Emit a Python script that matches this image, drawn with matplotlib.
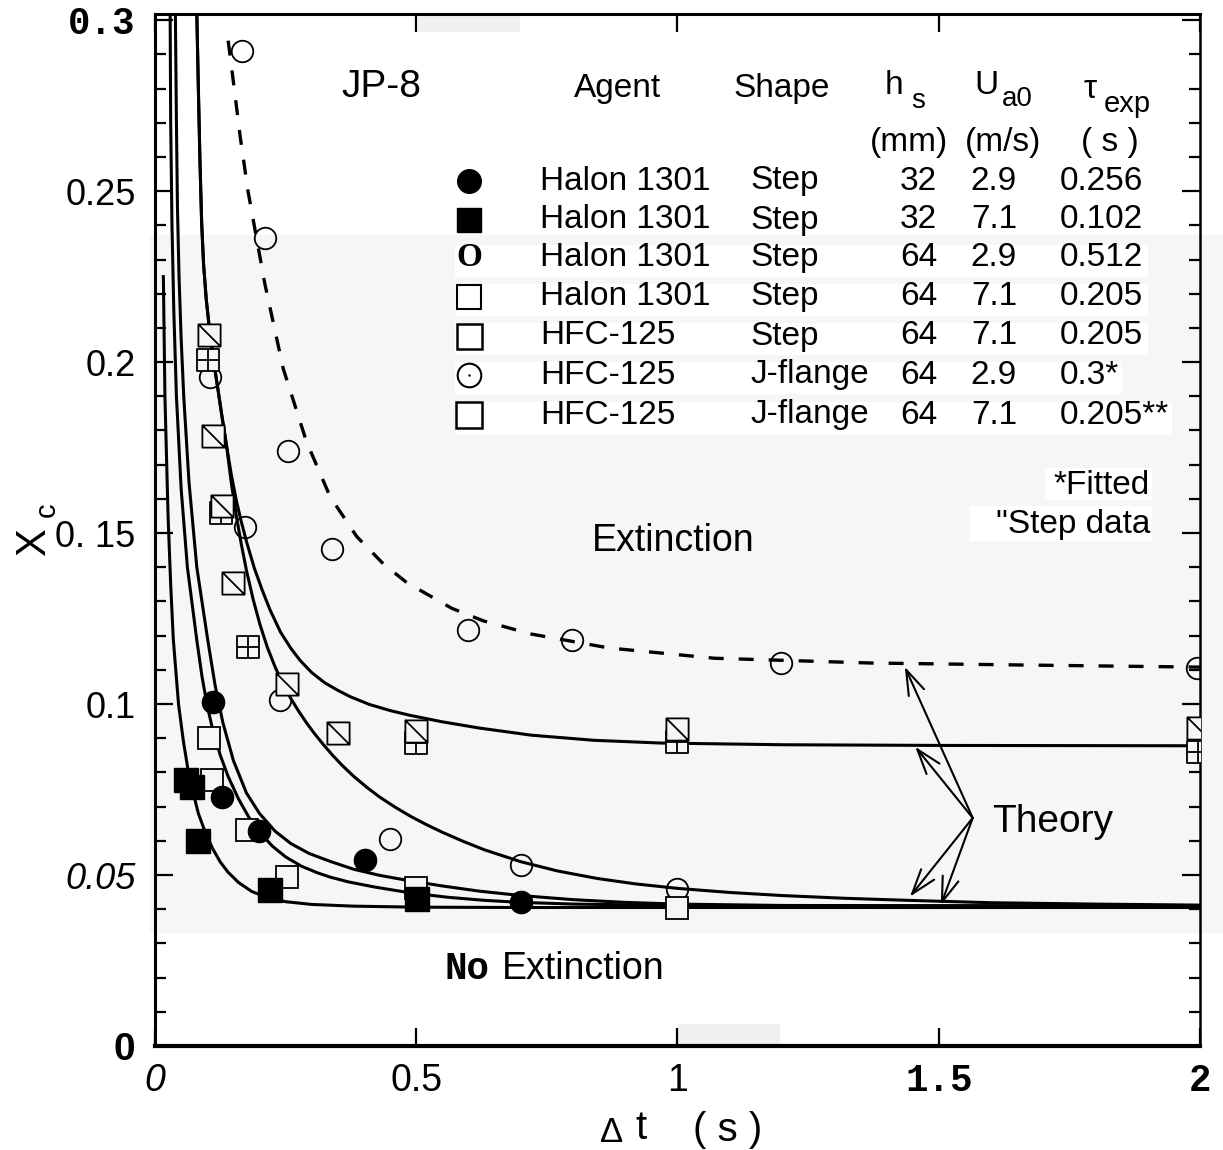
import matplotlib.pyplot as plt
from matplotlib.path import Path
from matplotlib.patches import Rectangle
from matplotlib.ticker import MultipleLocator

plt.rcParams['font.family'] = ['Liberation Sans', 'DejaVu Sans']

# ---- theory curves (dt in s, Xc) ----
a_dt = [0.016, 0.019, 0.025, 0.030, 0.035, 0.045, 0.054, 0.065, 0.083, 0.095, 0.11, 0.125,
        0.14, 0.16, 0.185, 0.215, 0.25, 0.30, 0.38, 0.5, 0.7, 1.0, 1.5, 2.0]
a_xc = [0.225, 0.19, 0.155, 0.135, 0.119, 0.100, 0.0895, 0.079, 0.068, 0.063, 0.0578, 0.0538,
        0.0508, 0.0478, 0.0452, 0.0434, 0.0422, 0.0414, 0.0409, 0.0406, 0.0405, 0.0405, 0.0405,
        0.0405]

e_dt = [0.029, 0.030, 0.0325, 0.036, 0.041, 0.050, 0.062, 0.080, 0.09, 0.10, 0.11, 0.125,
        0.14, 0.16, 0.18, 0.20, 0.225, 0.25, 0.28, 0.31, 0.335, 0.37, 0.42, 0.488, 0.56, 0.63,
        0.70, 0.8, 1.0, 1.5, 2.0]
e_xc = [0.302, 0.27, 0.24, 0.215, 0.19, 0.163, 0.140, 0.1187, 0.108, 0.0995, 0.0928, 0.085,
        0.0788, 0.0722, 0.0668, 0.0625, 0.0584, 0.0553, 0.0526, 0.0507, 0.0494, 0.048, 0.0465,
        0.0448, 0.0435, 0.0426, 0.042, 0.0415, 0.0411, 0.041, 0.041]

b_dt = [0.039, 0.041, 0.043, 0.046, 0.050, 0.055, 0.065, 0.080, 0.101, 0.115, 0.13, 0.15,
        0.175, 0.20, 0.23, 0.26, 0.295, 0.335, 0.38, 0.43, 0.488, 0.55, 0.62, 0.70, 0.80, 0.9,
        1.0, 1.2, 1.5, 2.0]
b_xc = [0.302, 0.27, 0.245, 0.225, 0.207, 0.19, 0.165, 0.140, 0.1187, 0.1055, 0.0945, 0.0835,
        0.074, 0.068, 0.0628, 0.0592, 0.0563, 0.054, 0.0517, 0.0499, 0.0483, 0.0468, 0.0453,
        0.044, 0.0428, 0.042, 0.0415, 0.0411, 0.041, 0.041]

c_dt = [0.080, 0.083, 0.086, 0.0893, 0.093, 0.098, 0.105, 0.113, 0.12, 0.1276, 0.137, 0.146,
        0.156, 0.165, 0.175, 0.188, 0.201, 0.215, 0.23, 0.245, 0.26, 0.275, 0.29, 0.305, 0.322,
        0.34, 0.36, 0.38, 0.405, 0.43, 0.46, 0.49, 0.52, 0.55, 0.589, 0.63, 0.70, 0.77, 0.846,
        0.92, 1.0, 1.1, 1.2, 1.32, 1.44, 1.6, 1.8, 2.0]
c_xc = [0.302, 0.28, 0.259, 0.2407, 0.2285, 0.2185, 0.2085, 0.1995, 0.1925, 0.1847, 0.1755,
        0.1647, 0.1547, 0.1469, 0.1391, 0.1305, 0.1232, 0.1166, 0.1108, 0.1058, 0.1016, 0.0979,
        0.0945, 0.0914, 0.0882, 0.085, 0.0818, 0.0789, 0.0757, 0.0728, 0.0698, 0.0671, 0.0647,
        0.0625, 0.0599, 0.0574, 0.0539, 0.0512, 0.049, 0.0474, 0.0461, 0.0449, 0.044, 0.0432,
        0.0426, 0.0419, 0.0415, 0.0412]

d_dt = [0.080, 0.083, 0.086, 0.0893, 0.093, 0.098, 0.105, 0.113, 0.12, 0.1276, 0.137, 0.146,
        0.156, 0.1655, 0.1755, 0.19, 0.205, 0.22, 0.24, 0.26, 0.2775, 0.30, 0.325, 0.35, 0.373,
        0.41, 0.45, 0.488, 0.55, 0.62, 0.72, 0.84, 0.968, 1.2, 1.5, 2.0]
d_xc = [0.302, 0.28, 0.259, 0.2407, 0.2285, 0.2185, 0.2085, 0.1995, 0.1925, 0.1847, 0.1755,
        0.1671, 0.1593, 0.1531, 0.1473, 0.1398, 0.1334, 0.1276, 0.1211, 0.1163, 0.1128, 0.1092,
        0.1062, 0.104, 0.1022, 0.0999, 0.0981, 0.0967, 0.0948, 0.093, 0.0909, 0.0894, 0.0886,
        0.0881, 0.0879, 0.0878]

# dashed theory curve (J-flange, 2.9 m/s)
j_dt = [0.14, 0.15, 0.163, 0.178, 0.195, 0.2105, 0.2456, 0.29, 0.335, 0.386, 0.437, 0.482,
        0.568, 0.629, 0.719, 0.869, 1.07, 1.37, 1.67, 2.0]
j_xc = [0.294, 0.282, 0.266, 0.250, 0.2357, 0.2227, 0.198, 0.1767, 0.1607, 0.149, 0.141, 0.1355,
        0.128, 0.1243, 0.1205, 0.1164, 0.1134, 0.112, 0.1114, 0.1108]

# ---- measurements ----
h32a_dt = [0.111, 0.128, 0.199, 0.402, 0.700]          # Halon 1301, 32 mm, 2.9 m/s
h32a_xc = [0.1006, 0.0728, 0.0629, 0.0544, 0.0421]
h32b_dt = [0.060, 0.070, 0.082, 0.220, 0.501]          # Halon 1301, 32 mm, 7.1 m/s
h32b_xc = [0.0778, 0.0757, 0.0600, 0.0456, 0.0430]
h64a_dt = [0.105, 0.172, 0.239, 0.450, 0.700, 1.000]   # Halon 1301, 64 mm, 2.9 m/s
h64a_xc = [0.1956, 0.1518, 0.1012, 0.0605, 0.0529, 0.0458]
h64b_dt = [0.104, 0.109, 0.1755, 0.252, 0.500, 1.000]  # Halon 1301, 64 mm, 7.1 m/s
h64b_xc = [0.0900, 0.0778, 0.0633, 0.0495, 0.0463, 0.0404]
hfs_dt = [0.104, 0.1117, 0.1276, 0.1487, 0.252, 0.351, 0.499, 1.000, 1.997]  # HFC-125 step
hfs_xc = [0.208, 0.1783, 0.158, 0.1353, 0.106, 0.0916, 0.092, 0.0926, 0.0931]
hja_dt = [0.167, 0.2105, 0.255, 0.338, 0.599, 0.799, 1.198, 1.995]  # HFC-125 J-flange 2.9
hja_xc = [0.291, 0.2363, 0.174, 0.1453, 0.1216, 0.1187, 0.1121, 0.1105]
hjb_dt = [0.102, 0.127, 0.1786, 0.499, 1.000, 1.997]  # HFC-125 J-flange 7.1
hjb_xc = [0.2007, 0.156, 0.1167, 0.0887, 0.0889, 0.0860]

# key table
agents = ['Halon 1301', 'Halon 1301', 'Halon 1301', 'Halon 1301', 'HFC-125', 'HFC-125', 'HFC-125']
shapes = ['Step', 'Step', 'Step', 'Step', 'Step', 'J-flange', 'J-flange']
h_s = ['32', '32', '64', '64', '64', '64', '64']
u_a0 = ['2.9', '7.1', '2.9', '7.1', '7.1', '2.9', '7.1']
tau = ['0.256', '0.102', '0.512', '0.205', '0.205', '0.3*', '0.205**']

y_ticks = [0, 0.05, 0.1, 0.15, 0.2, 0.25, 0.3]
y_labels = ['0', '0.05', '0.1', '0. 15', '0.2', '0.25', '0.3']
x_ticks = [0, 0.5, 1, 1.5, 2]
x_labels = ['0', '0.5', '1', '1.5', '2']

W, H = 1223, 1150
BG = '#f6f6f6'


def fx(px):
    return px / W


def fy(py):
    return 1 - py / H


def box(x0, x1, y0, y1, c, z=-1):
    fig.add_artist(Rectangle((fx(x0), fy(y1)), (x1 - x0) / W, (y1 - y0) / H,
                             transform=fig.transFigure, color=c, lw=0, zorder=z))


fig = plt.figure(figsize=(W / 100, H / 100), dpi=100)
ax = fig.add_axes([fx(155), fy(1046), 1045 / W, 1032 / H])
ax.patch.set_alpha(0)

# scanned page look: grey band, white strips behind key rows
box(150, W, 235, 933, BG, -2)
for x0, x1, y0, y1 in [(455, 1148, 245, 277), (455, 1148, 284, 316), (455, 1148, 323, 355),
                       (455, 1122, 362, 394), (455, 1172, 402, 435),
                       (1045, 1152, 468, 500), (970, 1152, 506, 541)]:
    box(x0, x1, y0, y1, 'white')
box(418, 520, 14, 32, '#f0f0f0')
box(678, 780, 1024, 1046, '#f0f0f0')

# theory curves
for xs, ys in [(a_dt, a_xc), (e_dt, e_xc), (b_dt, b_xc), (c_dt, c_xc), (d_dt, d_xc)]:
    ax.plot(xs, ys, color='k', lw=2.2, zorder=2, solid_joinstyle='round')
ax.plot(j_dt, j_xc, color='k', lw=2.4, ls=(0, (4.5, 4.5)), zorder=2)

sq = [(-1, -1), (1, -1), (1, 1), (-1, 1), (-1, -1)]
sq_c = [Path.MOVETO, Path.LINETO, Path.LINETO, Path.LINETO, Path.CLOSEPOLY]
diag_sq = Path(sq + [(-1, 1), (1, -1)], sq_c + [Path.MOVETO, Path.LINETO])
grid_sq = Path(sq + [(0, -1), (0, 1), (-1, 0), (1, 0)],
               sq_c + [Path.MOVETO, Path.LINETO, Path.MOVETO, Path.LINETO])

ax.plot(h64a_dt, h64a_xc, 'o', ms=15.5, mfc='none', mec='k', mew=1.3, zorder=3)
ax.plot(hja_dt, hja_xc, 'o', ms=15.5, mfc='none', mec='k', mew=1.3, zorder=3)
ax.plot(h64b_dt, h64b_xc, 's', ms=16, mfc=BG, mec='k', mew=1.3, zorder=4)
ax.plot(hjb_dt, hjb_xc, ls='none', marker=grid_sq, ms=16, mfc=BG, mec='k', mew=1.3, zorder=4)
ax.plot(hfs_dt, hfs_xc, ls='none', marker=diag_sq, ms=16, mfc=BG, mec='k', mew=1.3, zorder=5)
ax.plot(h32b_dt, h32b_xc, 's', ms=17, mfc='k', mec='k', zorder=6)
ax.plot(h32a_dt, h32a_xc, 'o', ms=16, mfc='k', mec='k', zorder=6)

# arrows from "Theory"
arrow_from = (1.565, 0.0667)
arrow_to = [(1.435, 0.1109), (1.455, 0.0875), (1.445, 0.0437), (1.504, 0.0412)]
for tip in arrow_to:
    ax.annotate('', xy=tip, xytext=arrow_from,
                arrowprops=dict(arrowstyle='->,head_length=0.9,head_width=0.3',
                                mutation_scale=20, lw=1.5, color='k',
                                shrinkA=0, shrinkB=0), zorder=4)

ax.set_xlim(0, 2)
ax.set_ylim(0, 0.3018)
ax.set_xticks(x_ticks, x_labels)
ax.set_yticks(y_ticks, y_labels)
ax.yaxis.set_minor_locator(MultipleLocator(0.01))
ax.tick_params(axis='both', which='both', direction='in', width=1.6)
ax.tick_params(axis='y', which='major', length=13, pad=14, left=True, right=True)
ax.tick_params(axis='y', which='minor', length=8, left=True, right=True)
ax.tick_params(axis='x', which='major', length=13, pad=12, top=True, bottom=True)
for side, w in [('left', 2.2), ('bottom', 3.0), ('top', 2.2), ('right', 1.8)]:
    ax.spines[side].set_linewidth(w)

y_fonts = [('Liberation Sans', 'bold', 'normal', 28), ('Liberation Sans', 'normal', 'italic', 26),
           ('Liberation Sans', 'normal', 'normal', 26), ('Liberation Sans', 'normal', 'normal', 26),
           ('Liberation Sans', 'normal', 'normal', 26), ('Liberation Sans', 'normal', 'normal', 26),
           ('Liberation Mono', 'bold', 'normal', 27)]
for lab, (fam, wt, st, sz) in zip(ax.get_yticklabels(), y_fonts):
    lab.set_family(fam)
    lab.set_weight(wt)
    lab.set_style(st)
    lab.set_fontsize(sz)
x_fonts = [('Liberation Sans', 'normal', 'italic', 27), ('Liberation Sans', 'normal', 'normal', 27),
           ('Liberation Sans', 'normal', 'normal', 27), ('Liberation Mono', 'bold', 'normal', 27),
           ('Liberation Mono', 'bold', 'normal', 27)]
for lab, (fam, wt, st, sz) in zip(ax.get_xticklabels(), x_fonts):
    lab.set_family(fam)
    lab.set_weight(wt)
    lab.set_style(st)
    lab.set_fontsize(sz)

# axis titles
fig.text(fx(34), fy(542), 'X', size=30, rotation=90, ha='center', va='center')
fig.text(fx(47), fy(510), 'c', size=21, rotation=90, ha='center', va='center')
fig.text(fx(612), fy(1133), 'Δ', size=25, ha='center', va='center')
fig.text(fx(641), fy(1128), 't', size=29, ha='center', va='center')
fig.text(fx(728), fy(1130), '( s )', size=29, ha='center', va='center')

# annotations in the plot
fig.text(fx(381), fy(87), 'JP-8', size=28, ha='center', va='center')
fig.text(fx(673), fy(541), 'Extinction', size=27, ha='center', va='center')
fig.text(fx(1053), fy(822), 'Theory', size=28, ha='center', va='center')
fig.text(fx(489), fy(969), 'No', size=27, family='Liberation Mono', weight='bold',
         ha='right', va='center')
fig.text(fx(502), fy(969), 'Extinction', size=27, ha='left', va='center')
fig.text(fx(1150), fy(485), '*Fitted', size=24, ha='right', va='center')
fig.text(fx(1150), fy(524), '"Step data', size=24, ha='right', va='center')

# key header
ts = 24
fig.text(fx(617), fy(88), 'Agent', size=ts, ha='center', va='center')
fig.text(fx(782), fy(88), 'Shape', size=ts, ha='center', va='center')
fig.text(fx(894), fy(85), 'h', size=ts, ha='center', va='center')
fig.text(fx(918), fy(101), 's', size=20, ha='center', va='center')
fig.text(fx(986), fy(86), 'U', size=ts, ha='center', va='center')
fig.text(fx(1017), fy(99), 'a0', size=20, ha='center', va='center')
fig.text(fx(1090), fy(89), 'τ', size=ts, ha='center', va='center')
fig.text(fx(1127), fy(104), 'exp', size=21, ha='center', va='center')
fig.text(fx(909), fy(142), '(mm)', size=ts, ha='center', va='center')
fig.text(fx(1003), fy(142), '(m/s)', size=ts, ha='center', va='center')
fig.text(fx(1110), fy(142), '( s )', size=ts, ha='center', va='center')

row_y = [181, 220, 258, 297, 336, 375, 415]
for i, ry in enumerate(row_y):
    fig.text(fx(540), fy(ry), agents[i], size=ts, ha='left', va='center')
    fig.text(fx(750), fy(ry), shapes[i], size=ts, ha='left', va='center')
    fig.text(fx(937), fy(ry), h_s[i], size=ts, ha='right', va='center')
    fig.text(fx(994), fy(ry), u_a0[i], size=ts, ha='center', va='center')
    fig.text(fx(1060), fy(ry), tau[i], size=ts, ha='left', va='center')

kx = fx(469)
ax.plot([kx], [fy(row_y[0])], 'o', ms=17, mfc='k', mec='k', transform=fig.transFigure, clip_on=False)
ax.plot([kx], [fy(row_y[1])], 's', ms=17, mfc='k', mec='k', transform=fig.transFigure, clip_on=False)
fig.text(kx, fy(row_y[2]), 'O', size=24, family='Liberation Serif', weight='bold',
         ha='center', va='center')
ax.plot([kx], [fy(row_y[3])], 's', ms=17, mfc='white', mec='k', mew=1.5, transform=fig.transFigure, clip_on=False)
ax.plot([kx], [fy(row_y[4])], 's', ms=18, mfc='white', mec='k', mew=1.8, transform=fig.transFigure, clip_on=False)
ax.plot([kx], [fy(row_y[5])], 'o', ms=17, mfc='white', mec='k', mew=1.5, transform=fig.transFigure, clip_on=False)
ax.plot([kx], [fy(row_y[5])], '.', ms=1.5, color='k', transform=fig.transFigure, clip_on=False)
ax.plot([kx], [fy(row_y[6])], 's', ms=19, mfc='white', mec='k', mew=1.8, transform=fig.transFigure, clip_on=False)

fig.savefig('out.png', dpi=100)
